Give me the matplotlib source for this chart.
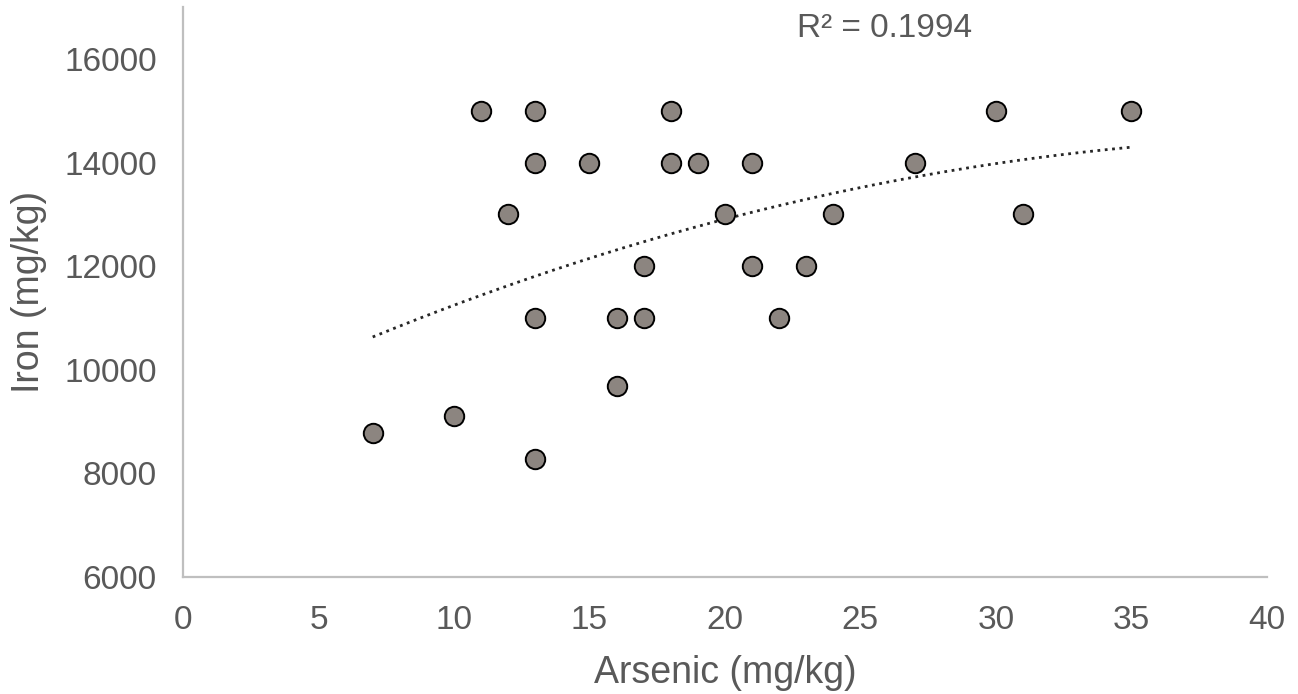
import numpy as np
import matplotlib.pyplot as plt

# arsenic vs iron concentrations per sample
arsenic = [7, 10, 11, 12, 13, 13, 13, 13, 15, 16, 16, 17, 17, 18, 18, 19,
           20, 21, 21, 22, 23, 24, 27, 30, 31, 35]
iron = [8780, 9100, 15000, 13000, 15000, 14000, 11000, 8270, 14000, 11000,
        9680, 12000, 11000, 15000, 14000, 14000, 13000, 14000, 12000, 11000,
        12000, 13000, 14000, 15000, 13000, 15000]

x_ticks = [0, 5, 10, 15, 20, 25, 30, 35, 40]
y_ticks = [6000, 8000, 10000, 12000, 14000, 16000]
r2_label = "R² = 0.1994"

plt.rcParams['font.family'] = ['Liberation Sans', 'DejaVu Sans']
txt_color = '#595959'

fig = plt.figure(figsize=(12.98, 6.94), dpi=100)
ax = fig.add_axes([0.141, 0.1686, 0.835, 0.821])

x = np.array(arsenic, dtype=float)
y = np.array(iron, dtype=float)

# 2nd order polynomial trendline across the sampled range
coef = np.polyfit(x, y, 2)
xt = np.linspace(x.min(), x.max(), 200)
ax.plot(xt, np.polyval(coef, xt), linestyle=':', color='#262626', linewidth=2.0, zorder=2)

ax.scatter(x, y, s=14 ** 2, color='#8c8580', edgecolors='black', linewidths=1.4, zorder=3)

ax.text(25.9, 16580, r2_label, ha='center', va='center', fontsize=24, color=txt_color)

ax.set_xlim(0, 40)
ax.set_ylim(6000, 17000)
ax.set_xticks(x_ticks)
ax.set_yticks(y_ticks)
ax.tick_params(length=0, labelsize=24, labelcolor=txt_color)
ax.tick_params(axis='x', pad=20)
ax.tick_params(axis='y', pad=19)

for side in ['top', 'right']:
    ax.spines[side].set_visible(False)
for side in ['left', 'bottom']:
    ax.spines[side].set_color('#bfbfbf')
    ax.spines[side].set_linewidth(1.6)

ax.set_xlabel('Arsenic (mg/kg)', fontsize=27, color=txt_color, labelpad=14)
ax.set_ylabel('Iron (mg/kg)', fontsize=27, color=txt_color, labelpad=12)

fig.savefig('out.png', dpi=100)
